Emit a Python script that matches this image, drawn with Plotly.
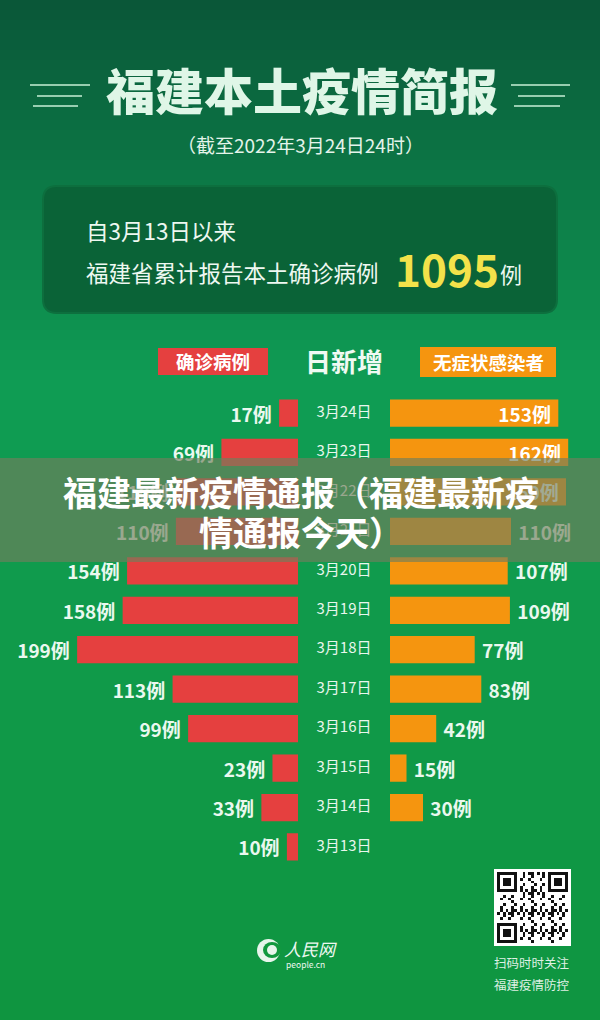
import plotly.graph_objects as go

# ---------------- data ----------------
dates = ["3月24日", "3月23日", "3月22日", "3月21日", "3月20日", "3月19日",
         "3月18日", "3月17日", "3月16日", "3月15日", "3月14日", "3月13日"]
confirmed = [17, 69, 110, 110, 154, 158, 199, 113, 99, 23, 33, 10]
asymptomatic = [153, 162, 160, 110, 107, 109, 77, 83, 42, 15, 30, None]
total_confirmed = 1095

title_text = "福建本土疫情简报"
subtitle_text = "（截至2022年3月24日24时）"
banner_line1 = "福建最新疫情通报（福建最新疫"
banner_line2 = "情通报今天）"

W, H = 600, 1020
FONT = "Noto Sans CJK SC"
RED = "#e5403f"
ORANGE = "#f5950f"
LABEL = "#eaf8ef"


def px(x):
    return x / W


def py(y):
    return 1 - y / H


def hex2rgb(h):
    h = h.lstrip("#")
    return tuple(int(h[i:i + 2], 16) for i in (0, 2, 4))


def lerp_color(c1, c2, t):
    a, b = hex2rgb(c1), hex2rgb(c2)
    return "rgb(%d,%d,%d)" % tuple(round(a[i] + (b[i] - a[i]) * t) for i in range(3))


shapes = []
# background vertical gradient
stops = [(0, "#0a5638"), (180, "#0c7846"), (380, "#0f9c54"), (650, "#109a4a"), (1020, "#0f9540")]
step = 10
for y0 in range(0, H, step):
    ym = y0 + step / 2
    for k in range(len(stops) - 1):
        if stops[k][0] <= ym <= stops[k + 1][0]:
            t = (ym - stops[k][0]) / (stops[k + 1][0] - stops[k][0])
            col = lerp_color(stops[k][1], stops[k + 1][1], t)
            break
    shapes.append(dict(type="rect", xref="paper", yref="paper", x0=0, x1=1,
                       y0=py(y0 + step + 0.5), y1=py(y0), fillcolor=col,
                       line=dict(width=0), layer="below"))

# title decorative lines
for (x0, x1, y) in [(30, 90, 85), (37, 82, 96), (33, 78, 106),
                    (511, 570, 85), (518, 565, 96), (514, 560, 106)]:
    shapes.append(dict(type="line", xref="paper", yref="paper", x0=px(x0), x1=px(x1),
                       y0=py(y), y1=py(y), line=dict(color="rgba(200,240,215,0.75)", width=2),
                       layer="below"))

# summary box (rounded)
bx0, bx1, by0, by1, r = 43, 557, 186, 313, 14
path = (f"M {px(bx0 + r)},{py(by0)} L {px(bx1 - r)},{py(by0)} "
        f"Q {px(bx1)},{py(by0)} {px(bx1)},{py(by0 + r)} L {px(bx1)},{py(by1 - r)} "
        f"Q {px(bx1)},{py(by1)} {px(bx1 - r)},{py(by1)} L {px(bx0 + r)},{py(by1)} "
        f"Q {px(bx0)},{py(by1)} {px(bx0)},{py(by1 - r)} L {px(bx0)},{py(by0 + r)} "
        f"Q {px(bx0)},{py(by0)} {px(bx0 + r)},{py(by0)} Z")
shapes.append(dict(type="path", xref="paper", yref="paper", path=path,
                   fillcolor="#0a6337", line=dict(color="#0d6f3e", width=2), layer="below"))

# header boxes
shapes.append(dict(type="rect", xref="paper", yref="paper", x0=px(158), x1=px(268),
                   y0=py(375), y1=py(348), fillcolor=RED, line=dict(width=0), layer="below"))
shapes.append(dict(type="rect", xref="paper", yref="paper", x0=px(420), x1=px(556),
                   y0=py(377), y1=py(347), fillcolor=ORANGE, line=dict(width=0), layer="below"))

# QR background
shapes.append(dict(type="rect", xref="paper", yref="paper", x0=px(494), x1=px(571),
                   y0=py(946), y1=py(869), fillcolor="white", line=dict(width=0), layer="below"))

# logo circle
shapes.append(dict(type="circle", xref="paper", yref="paper", x0=px(257), x1=px(280),
                   y0=py(962), y1=py(939), fillcolor="#e8f5ec", line=dict(width=0), layer="above"))
shapes.append(dict(type="circle", xref="paper", yref="paper", x0=px(263), x1=px(281),
                   y0=py(958), y1=py(942), fillcolor="#12983f", line=dict(width=0), layer="above"))
shapes.append(dict(type="circle", xref="paper", yref="paper", x0=px(267), x1=px(277),
                   y0=py(955), y1=py(945), fillcolor="#e8f5ec", line=dict(width=0), layer="above"))

# banner overlay
shapes.append(dict(type="rect", xref="paper", yref="paper", x0=0, x1=1,
                   y0=py(562), y1=py(458), fillcolor="rgba(112,126,92,0.66)",
                   line=dict(width=0), layer="above"))

fig = go.Figure()

conf_text = [f"{v}例 " for v in confirmed]
asym_pos = ["inside" if (v is not None and v >= 150) else "outside" for v in asymptomatic]
asym_text = []
for v, p in zip(asymptomatic, asym_pos):
    if v is None:
        asym_text.append("")
    elif p == "inside":
        asym_text.append(f"{v}例 ")
    else:
        asym_text.append(f" {v}例")

fig.add_trace(go.Bar(
    y=dates, x=confirmed, orientation="h", xaxis="x", yaxis="y",
    marker=dict(color=RED, line=dict(width=0)),
    text=conf_text, textposition="outside", cliponaxis=False, constraintext="none",
    textfont=dict(family=FONT, size=19, color=LABEL, weight="bold"),
    hoverinfo="skip", showlegend=False,
))
fig.add_trace(go.Bar(
    y=dates, x=asymptomatic, orientation="h", xaxis="x2", yaxis="y",
    marker=dict(color=ORANGE, line=dict(width=0)),
    text=asym_text, textposition=asym_pos, insidetextanchor="end",
    cliponaxis=False, constraintext="none",
    textfont=dict(family=FONT, size=19, color=LABEL, weight="bold"),
    insidetextfont=dict(family=FONT, size=19, color="#ffffff", weight="bold"),
    outsidetextfont=dict(family=FONT, size=19, color=LABEL, weight="bold"),
    hoverinfo="skip", showlegend=False,
))
# date labels in the middle column
fig.add_trace(go.Scatter(
    y=dates, x=[0] * len(dates), xaxis="x3", yaxis="y", mode="text",
    text=dates, textposition="middle center", cliponaxis=False,
    textfont=dict(family=FONT, size=15, color="#e9f6ed"),
    hoverinfo="skip", showlegend=False,
))

# QR pattern (decorative)
N = 25
qr = [[0] * N for _ in range(N)]
for i in range(N):
    for j in range(N):
        qr[i][j] = 1 if ((i * i * 3 + j * 5 + i * j * 2 + j * j) % 7) < 3 else 0


def finder(r0, c0):
    for i in range(7):
        for j in range(7):
            edge = i in (0, 6) or j in (0, 6)
            core = 2 <= i <= 4 and 2 <= j <= 4
            qr[r0 + i][c0 + j] = 1 if (edge or core) else 0
    for k in range(-1, 8):
        for (a, b) in [(r0 - 1, c0 + k), (r0 + 7, c0 + k), (r0 + k, c0 - 1), (r0 + k, c0 + 7)]:
            if 0 <= a < N and 0 <= b < N:
                qr[a][b] = 0


finder(0, 0)
finder(0, N - 7)
finder(N - 7, 0)
fig.add_trace(go.Heatmap(
    z=qr, xaxis="x4", yaxis="y4", colorscale=[[0, "white"], [1, "#111111"]],
    showscale=False, hoverinfo="skip", zmin=0, zmax=1,
))

annotations = []


def ann(x, y, text, size, color="#ffffff", bold=False, xanchor="center", family=FONT,
        italic=False, weight=None):
    w = weight if weight is not None else ("bold" if bold else "normal")
    annotations.append(dict(
        x=px(x), y=py(y), xref="paper", yref="paper", text=text, showarrow=False,
        xanchor=xanchor, yanchor="middle",
        font=dict(family=family, size=size, color=color, weight=w,
                  style="italic" if italic else "normal"),
    ))


ann(302, 88, title_text, 49, color="#dff6e7", weight=900)
ann(300, 145, subtitle_text, 19, color="#e4f4ea")
ann(84, 230, "自3月13日以来", 22.5, color="#eef8f1", xanchor="left")
ann(84, 272, "福建省累计报告本土确诊病例", 22.5, color="#eef8f1", xanchor="left")
ann(393, 268, str(total_confirmed), 44, color="#f3e24a", bold=True, xanchor="left")
ann(498, 273, "例", 22, color="#eef8f1", xanchor="left")
ann(213, 361, "确诊病例", 18.5, bold=True)
ann(344, 360, "日新增", 26, color="#f0faf3", bold=True)
ann(488, 362, "无症状感染者", 18.5, bold=True)
ann(301, 491, banner_line1, 34, bold=True)
ann(301, 531, banner_line2, 34, bold=True)
ann(532, 962, "扫码时时关注", 12.5, color="#dff0e4")
ann(532, 984, "福建疫情防控", 12.5, color="#dff0e4")
ann(282, 948, "人民网", 17, color="#eef8f1", xanchor="left", italic=True)
ann(284, 964, "people.cn", 8.5, color="#eef8f1", xanchor="left")

row_top = 393.3
row_bot = 866.7

fig.update_layout(
    width=W, height=H, margin=dict(l=0, r=0, t=0, b=0),
    paper_bgcolor="#0f8a46", plot_bgcolor="rgba(0,0,0,0)",
    barmode="overlay", bargap=0.31,
    shapes=shapes, annotations=annotations,
    xaxis=dict(domain=[0, px(298)], range=[268.5, 0], visible=False, fixedrange=True),
    xaxis2=dict(domain=[px(390), 1], range=[0, 190.9], visible=False, anchor="y", fixedrange=True),
    xaxis3=dict(domain=[px(298), px(390)], range=[-1, 1], visible=False, anchor="y"),
    yaxis=dict(domain=[py(row_bot), py(row_top)], type="category", categoryarray=dates,
               categoryorder="array", range=[len(dates) - 0.5, -0.5], visible=False),
    xaxis4=dict(domain=[px(497), px(568)], range=[-0.5, N - 0.5], visible=False, anchor="y4"),
    yaxis4=dict(domain=[py(943), py(872)], range=[N - 0.5, -0.5], visible=False, anchor="x4"),
    font=dict(family=FONT),
)

fig.write_html("out.html")
